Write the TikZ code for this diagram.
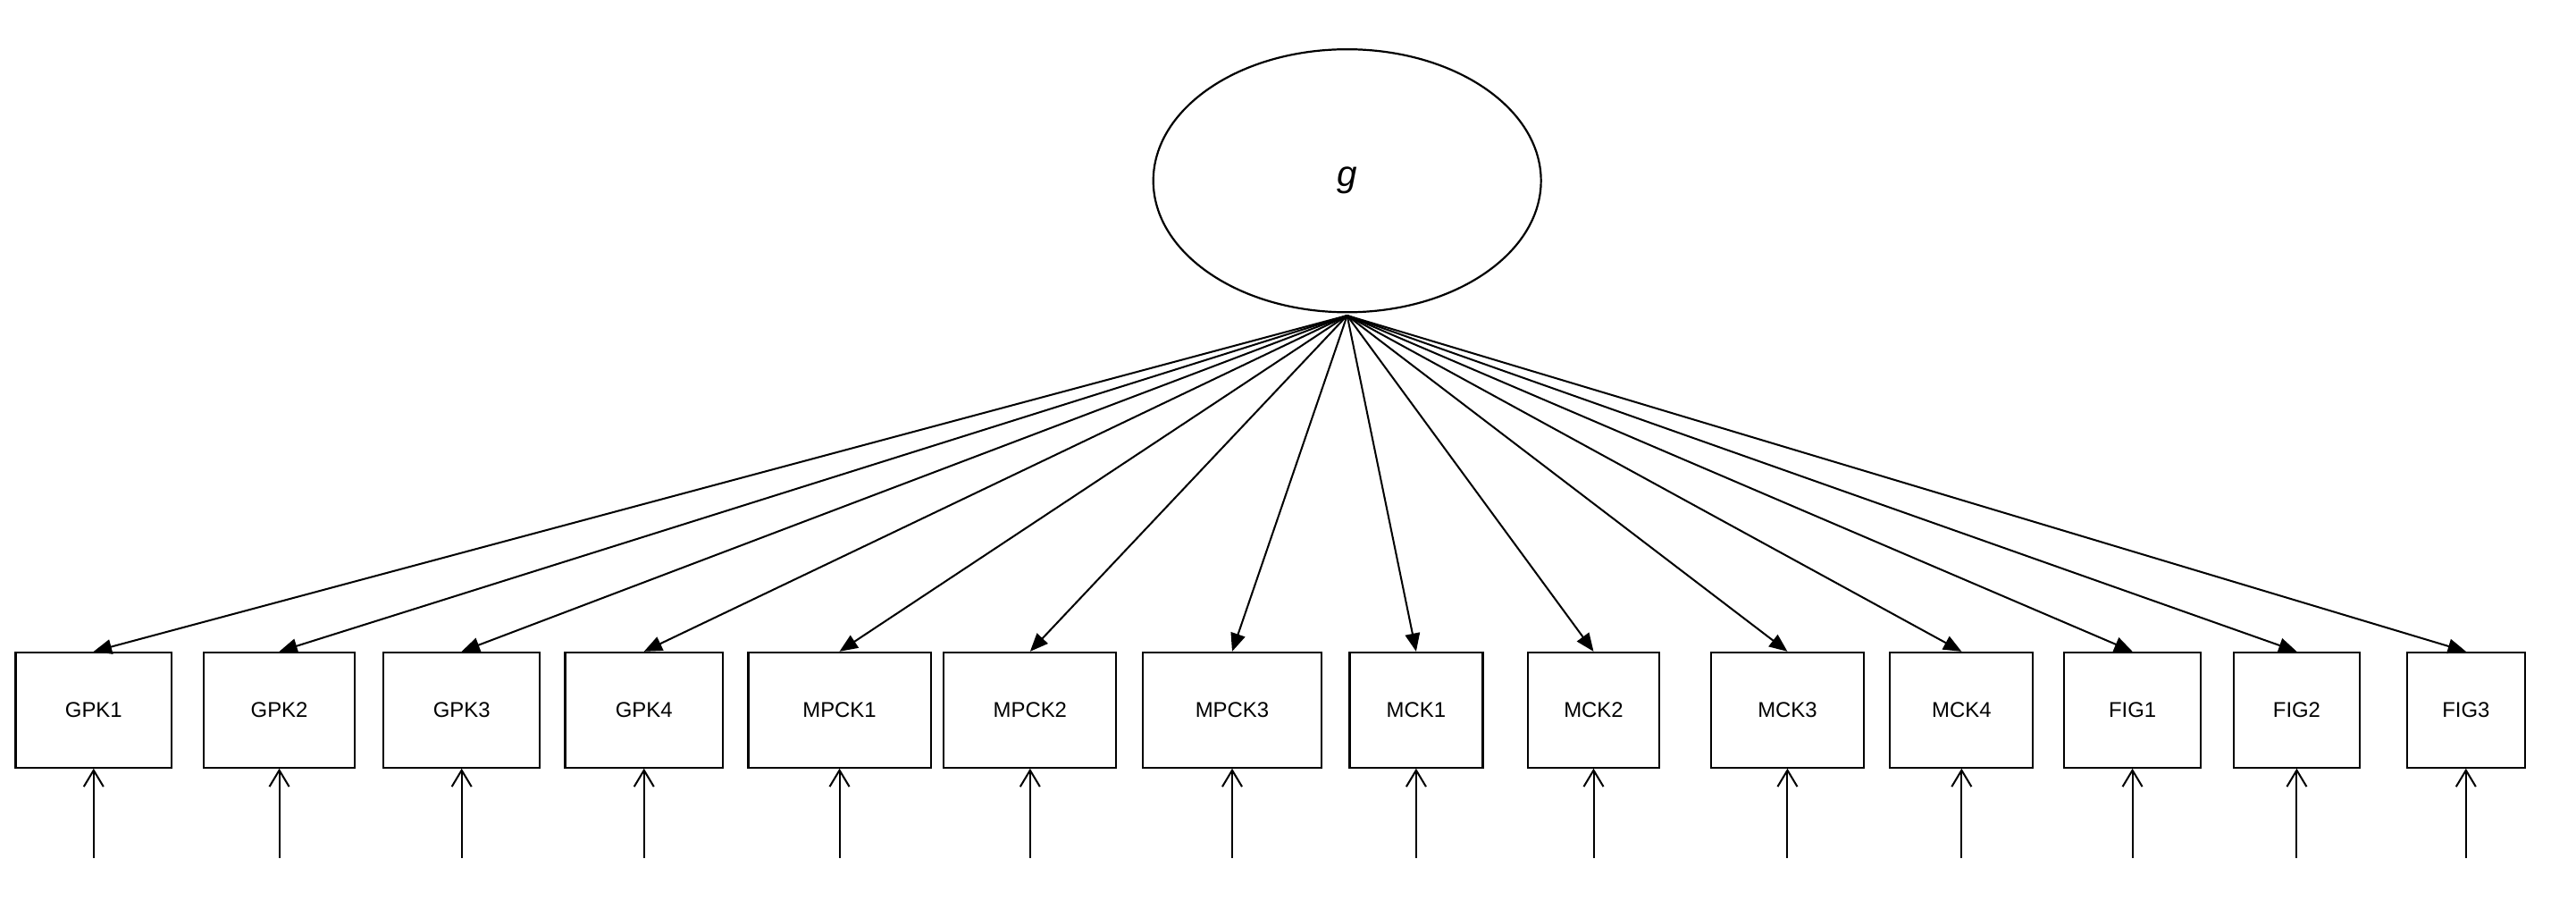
\documentclass[tikz,border=0pt]{standalone}
\usepackage{fontspec}
\setmainfont{Liberation Sans}
\usetikzlibrary{arrows.meta,shapes.geometric}
\begin{document}
\begin{tikzpicture}[x=1pt,y=-1pt,
  obs/.style={draw,line width=1.2pt,minimum height=70pt,inner sep=0pt,font=\fontsize{13}{15}\selectfont},
  load/.style={line width=1.1pt,-{Triangle[length=11pt,width=9pt]}},
  err/.style={line width=1.1pt,-{Straight Barb[length=10pt,width=12pt,line width=1.1pt]}}]
\useasboundingbox (0,0) rectangle (1568,548);
\node[draw,line width=1.2pt,ellipse,minimum width=236pt,minimum height=160pt,inner sep=0pt,font=\fontsize{22}{24}\selectfont\itshape] (g) at (820,110) {g};
\coordinate (src) at (820,192);
\foreach \n/\x/\w/\t in {a/57/95/GPK1,b/170/92/GPK2,c/281/95/GPK3,d/392/96/GPK4,e/511/111/MPCK1,f/627/105/MPCK2,h/750/109/MPCK3,i/862/81/MCK1,j/970/80/MCK2,k/1088/93/MCK3,l/1194/87/MCK4,m/1298/83/FIG1,n/1398/77/FIG2,o/1501/72/FIG3}{
  \node[obs,minimum width=\w pt] (\n) at (\x,432) {\t};
  \coordinate (e\n) at (\x,522);
  \draw[load] (src) -- (\n.north);
  \draw[err] (e\n) -- (\n.south);
}
\end{tikzpicture}
\end{document}
